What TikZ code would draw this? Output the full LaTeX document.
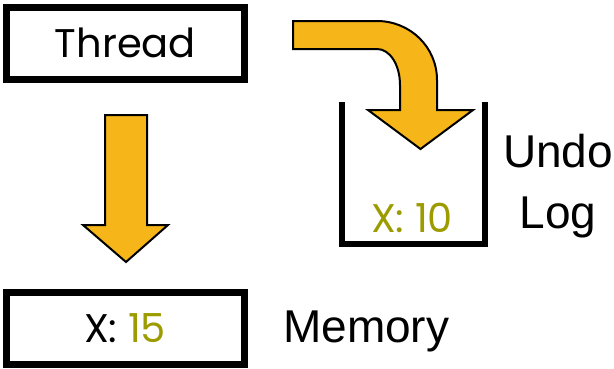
\documentclass[tikz,border=0pt]{standalone}
\usepackage{fontspec}
\setmainfont{Poppins}
\newfontfamily\labelfont{Liberation Sans}
\definecolor{arrowfill}{HTML}{F6B61A}
\definecolor{valuecol}{HTML}{9C9C00}
\begin{document}
\begin{tikzpicture}[x=1pt,y=-1pt,
  box/.style={draw=black, line width=7pt, minimum width=238pt, minimum height=72pt,
    inner sep=0pt, font=\fontsize{40}{44}\selectfont},
  bigarrow/.style={fill=arrowfill, draw=black, line width=2pt, line join=miter},
  logwall/.style={draw=black, line width=6pt, line join=miter},
  caption/.style={font=\labelfont\fontsize{46}{61}\selectfont, inner sep=0pt, align=center},
  value/.style={font=\fontsize{40}{44}\selectfont, inner sep=0pt}]
\useasboundingbox (0,0) rectangle (614,368);

% thread and memory boxes
\node[box] (thread) at (125.5,43) {Thread};
\node[box] (memory) at (125,328.5) {X: \textcolor{valuecol}{15}};
\node[caption, anchor=west] (memlabel) at (283,331) {Memory};

% straight arrow from the thread down to memory
\draw[bigarrow] (105,115) -- (147,115) -- (147,225) -- (168,225) -- (126,262)
  -- (83,225) -- (105,225) -- cycle;

% undo log container
\coordinate (logTL) at (342,102);
\coordinate (logBL) at (342,244);
\coordinate (logBR) at (485,244);
\coordinate (logTR) at (485,102);
\draw[logwall] (logTL) -- (logBL) -- (logBR) -- (logTR);
\node[value, text=valuecol] (oldval) at (412,218) {X: 10};
\node[caption] (loglabel) at (558,186) {Undo\\Log};

% bent arrow from the thread into the undo log
\draw[bigarrow] (293,21) -- (377,21)
  .. controls (410,21) and (437,47) .. (437,80)
  -- (437,110) -- (473,110) -- (420.5,149) -- (368,110) -- (400,110) -- (400,85)
  .. controls (400,65) and (390,49) .. (377,49)
  -- (293,49) -- cycle;
\end{tikzpicture}
\end{document}
